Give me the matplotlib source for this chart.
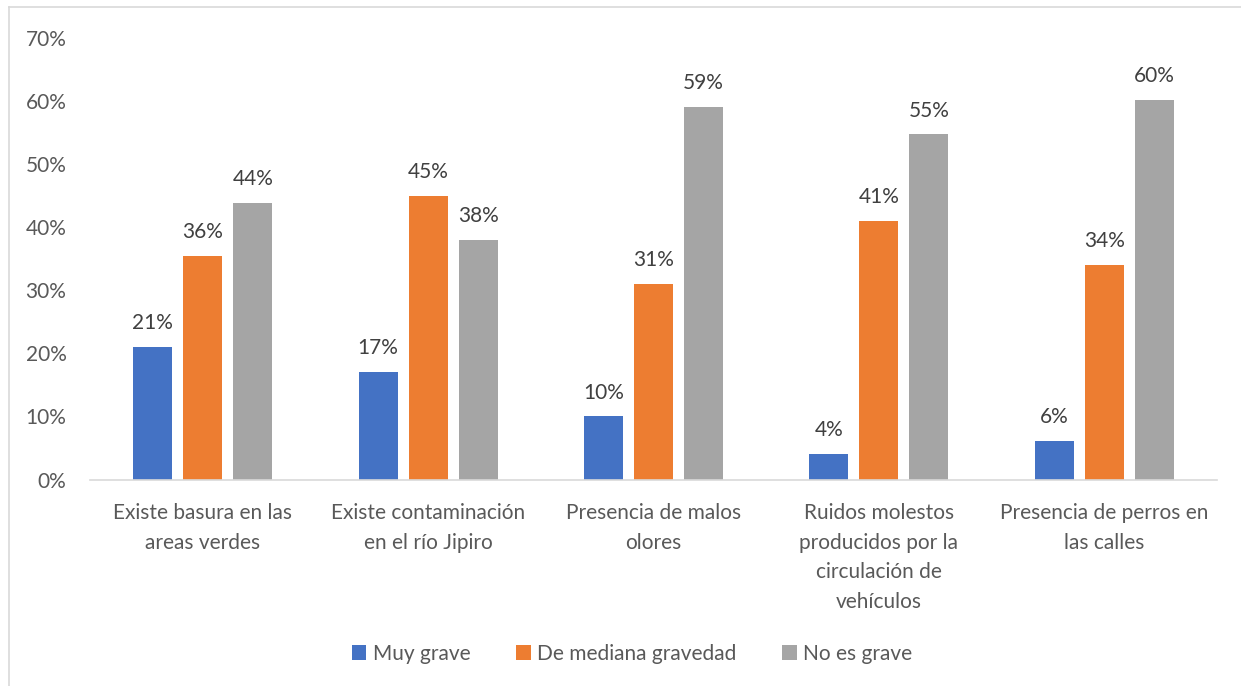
import matplotlib.pyplot as plt
from matplotlib.lines import Line2D
import numpy as np

plt.rcParams['font.family'] = ['Lato', 'DejaVu Sans']

categories = ["Existe basura en las\nareas verdes",
              "Existe contaminación\nen el río Jipiro",
              "Presencia de malos\nolores",
              "Ruidos molestos\nproducidos por la\ncirculación de\nvehículos",
              "Presencia de perros en\nlas calles"]
series_names = ["Muy grave", "De mediana gravedad", "No es grave"]
muy_grave = [21.0, 17.0, 10.0, 4.1, 6.1]
mediana = [35.5, 45.0, 31.0, 41.0, 34.0]
no_grave = [43.9, 38.0, 59.0, 54.7, 60.2]
labels_muy = ["21%", "17%", "10%", "4%", "6%"]
labels_med = ["36%", "45%", "31%", "41%", "34%"]
labels_no = ["44%", "38%", "59%", "55%", "60%"]
colors = ["#4472C4", "#ED7D31", "#A5A5A5"]

fig = plt.figure(figsize=(12.41, 6.86), dpi=100)
ax = fig.add_axes([90/1241, 1 - 479.5/686, (1217-90)/1241, (479.5-38)/686])

x = np.arange(len(categories))
step = 0.222
width = 0.173
text_col = "#595959"
fs = 15

all_vals = [muy_grave, mediana, no_grave]
all_labels = [labels_muy, labels_med, labels_no]
for i in range(3):
    bars = ax.bar(x + (i - 1) * step, all_vals[i], width, color=colors[i],
                  label=series_names[i], zorder=2)
    for b, lab in zip(bars, all_labels[i]):
        ax.annotate(lab, (b.get_x() + b.get_width() / 2, b.get_height()),
                    xytext=(0, 10), textcoords="offset points",
                    ha="center", va="bottom", fontsize=fs, color="#404040")

ax.set_xlim(-0.5, 4.5)
ax.set_ylim(0, 70)
ax.set_yticks(range(0, 71, 10))
ax.set_yticklabels([f"{v}%" for v in range(0, 71, 10)])
ax.set_xticks(x)
ax.set_xticklabels(categories, linespacing=1.6)
ax.tick_params(axis="both", length=0, labelsize=fs, labelcolor=text_col)
ax.tick_params(axis="y", pad=17)
ax.tick_params(axis="x", pad=17)
for s in ["top", "right", "left"]:
    ax.spines[s].set_visible(False)
ax.spines["bottom"].set_color("#D9D9D9")
ax.spines["bottom"].set_linewidth(1.2)

leg = fig.legend(loc="center", bbox_to_anchor=(632/1241, 1 - 654/686), ncol=3,
                 frameon=False, fontsize=fs, handlelength=0.7, handleheight=0.7,
                 handletextpad=0.3, columnspacing=2.2)
for t in leg.get_texts():
    t.set_color(text_col)

# chart border (only top and left are inside the image)
fig.add_artist(Line2D([8.5/1241, 8.5/1241], [0, 1 - 7/686], color="#D9D9D9", lw=1.2))
fig.add_artist(Line2D([8.5/1241, 1], [1 - 7/686, 1 - 7/686], color="#D9D9D9", lw=1.2))

fig.savefig("out.png", dpi=100, facecolor="white")
